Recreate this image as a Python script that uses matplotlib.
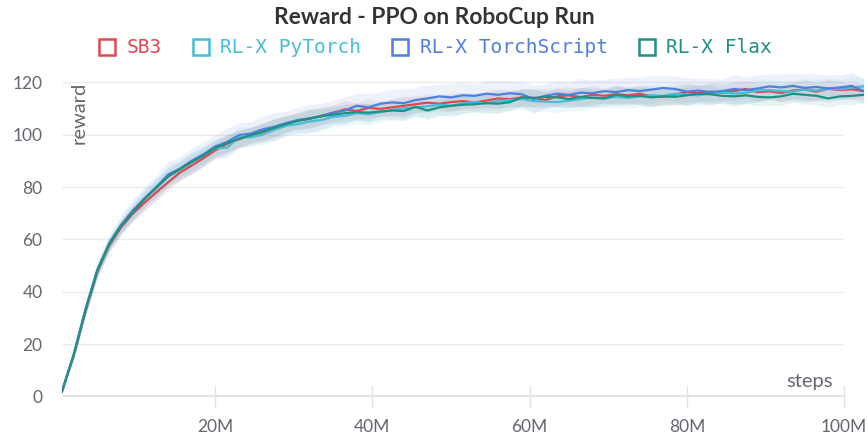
import numpy as np
import matplotlib
matplotlib.use("Agg")
import matplotlib.pyplot as plt
from matplotlib.lines import Line2D

# x grid: environment steps (millions)
steps_m = np.arange(0.5, 103.0, 1.5)

sb3 = [2.0, 15.5, 32.5, 47.5, 57.5, 64.5, 69.8, 74.0, 78.0, 81.8,
       85.5, 88.2, 91.0, 94.0, 96.5, 98.2, 99.8, 100.8, 102.5, 104.2,
       105.3, 106.0, 107.2, 108.3, 109.6, 109.0, 110.2, 109.8, 110.4, 111.0,
       111.6, 112.2, 111.8, 112.4, 112.8, 112.3, 113.0, 113.8, 113.5, 114.2,
       114.0, 113.2, 114.6, 115.0, 114.3, 115.2, 114.8, 115.4, 115.0, 115.6,
       114.6, 114.4, 115.3, 116.2, 115.8, 116.4, 116.0, 116.6, 117.4, 116.2,
       116.5, 115.9, 116.8, 117.2, 116.4, 117.5, 117.0, 117.3, 116.6]

rlx_pytorch = [2.0, 16.0, 33.0, 48.0, 58.0, 65.2, 70.6, 75.8, 79.6, 84.0,
               86.6, 89.4, 92.0, 94.8, 95.0, 99.0, 99.0, 100.0, 101.8, 103.4,
               104.0, 105.0, 105.6, 106.8, 107.2, 108.2, 107.8, 108.6, 109.4, 110.0,
               110.4, 110.8, 111.4, 111.0, 112.0, 112.4, 112.0, 112.8, 113.2, 113.6,
               112.8, 112.6, 112.4, 113.0, 113.6, 114.2, 113.8, 114.4, 114.0, 114.6,
               115.0, 114.8, 115.6, 115.2, 115.0, 115.8, 116.2, 115.6, 116.0, 116.8,
               117.0, 116.6, 116.4, 117.2, 116.8, 117.6, 117.2, 118.0, 118.4]

rlx_torchscript = [2.0, 16.0, 33.5, 48.5, 58.5, 65.5, 71.0, 75.5, 80.0, 84.8,
                   87.0, 90.0, 92.5, 95.5, 97.2, 99.8, 100.4, 102.0, 103.0, 104.4,
                   105.6, 106.2, 107.0, 108.4, 109.2, 111.0, 110.4, 111.8, 112.3, 112.0,
                   113.2, 113.8, 114.6, 114.2, 115.0, 114.8, 115.6, 115.2, 115.8, 115.4,
                   113.6, 114.8, 115.6, 115.2, 116.0, 115.8, 116.6, 116.2, 117.0, 116.6,
                   117.2, 117.8, 117.4, 116.4, 116.8, 116.2, 116.6, 117.4, 117.0, 117.6,
                   118.4, 118.0, 118.6, 117.8, 118.2, 117.6, 118.0, 118.6, 116.6]

rlx_flax = [2.0, 16.2, 33.2, 48.2, 58.3, 65.0, 70.4, 75.4, 79.8, 84.0,
            86.8, 89.6, 92.0, 95.0, 96.8, 98.4, 99.8, 101.2, 102.6, 104.0,
            105.2, 106.2, 107.0, 107.6, 108.2, 108.6, 108.4, 108.8, 109.2, 109.0,
            110.6, 109.2, 110.4, 111.0, 111.4, 111.6, 112.0, 111.8, 112.4, 114.2,
            114.0, 114.4, 114.2, 113.6, 114.4, 114.0, 113.8, 115.2, 114.6, 114.8,
            114.2, 114.6, 114.4, 115.0, 115.6, 115.4, 114.8, 114.6, 115.0, 114.4,
            114.2, 114.6, 115.6, 115.2, 114.8, 113.8, 114.6, 114.8, 115.2]

# half-width of the min/max band across seeds
band = [0.3, 1.0, 1.6, 2.0, 2.3, 2.5, 2.8, 3.0, 3.1, 3.2,
        3.0, 3.3, 3.1, 3.0, 3.4, 3.2, 3.0, 3.3, 3.5, 3.1,
        3.2, 3.6, 3.3, 3.1, 3.4, 3.2, 3.5, 3.0, 3.3, 3.6,
        3.2, 3.4, 3.1, 3.5, 3.3, 3.0, 3.4, 3.6, 3.2, 3.3,
        3.5, 3.1, 3.4, 3.2, 3.6, 3.3, 3.0, 3.5, 3.2, 3.4,
        3.6, 3.1, 3.3, 3.5, 3.2, 3.4, 3.0, 3.6, 3.3, 3.5,
        3.1, 3.4, 3.2, 3.6, 3.3, 3.5, 3.2, 3.4, 3.0]

labels = ["SB3", "RL-X PyTorch", "RL-X TorchScript", "RL-X Flax"]
colors = ["#e0474f", "#45bdd8", "#4f7fdf", "#1f9183"]
band_scale = [1.0, 1.2, 1.5, 1.0]
xticks_m = [20, 40, 60, 80, 100]
yticks = [0, 20, 40, 60, 80, 100, 120]

plt.rcParams["font.family"] = ["Lato", "DejaVu Sans"]

fig = plt.figure(figsize=(8.68, 4.40), dpi=100)
ax = fig.add_axes([0.0714, 0.0984, 0.9236, 0.7386])

x = steps_m * 1e6
series = [sb3, rlx_pytorch, rlx_torchscript, rlx_flax]
for vals, col, sc in zip(series, colors, band_scale):
    v = np.array(vals)
    w = np.array(band) * sc
    ax.fill_between(x, v - w, v + w, color=col, alpha=0.10, lw=0)
for vals, col, lab in zip(series, colors, labels):
    ax.plot(x, vals, color=col, lw=1.6, label=lab)

ax.set_xlim(0.5e6, 102.5e6)
ax.set_ylim(0, 124)

# horizontal grid + thick baseline
for yv in yticks[1:]:
    ax.hlines(yv, 0.5e6, 100e6, color="#ebebeb", lw=1, zorder=0)
ax.hlines(0, 0.5e6, 100e6, color="#e3e3e3", lw=3.5, zorder=0)

for s in ax.spines.values():
    s.set_visible(False)

ax.set_yticks(yticks)
ax.set_xticks([m * 1e6 for m in xticks_m])
ax.set_xticklabels([f"{m}M" for m in xticks_m])
ax.tick_params(axis="y", length=0, pad=14, labelsize=12.5, labelcolor="#666670")
ax.tick_params(axis="x", direction="inout", length=16, width=1, color="#e3e3e3",
               pad=8, labelsize=12.5, labelcolor="#666670")

ax.text(0.961, 0.048, "steps", transform=ax.transAxes, ha="right", va="center",
        fontsize=14.5, color="#666670")
ax.text(0.022, 0.969, "reward", transform=ax.transAxes, ha="center", va="top",
        rotation=90, fontsize=14.5, color="#666670")

fig.suptitle("Reward - PPO on RoboCup Run", x=0.5, y=0.985, fontsize=16.4,
             fontweight="bold", color="#333333")

handles = [Line2D([], [], ls="none", marker="s", markersize=11, markerfacecolor="none",
                  markeredgecolor=c, markeredgewidth=1.8) for c in colors]
leg = fig.legend(handles, labels, loc="center", bbox_to_anchor=(0.502, 0.891), ncol=4,
                 frameon=False, handlelength=0.8, handletextpad=0.6, columnspacing=1.6,
                 prop={"family": "DejaVu Sans Mono", "size": 14})
for t, c in zip(leg.get_texts(), colors):
    t.set_color(c)

fig.savefig("out.png", dpi=100)
